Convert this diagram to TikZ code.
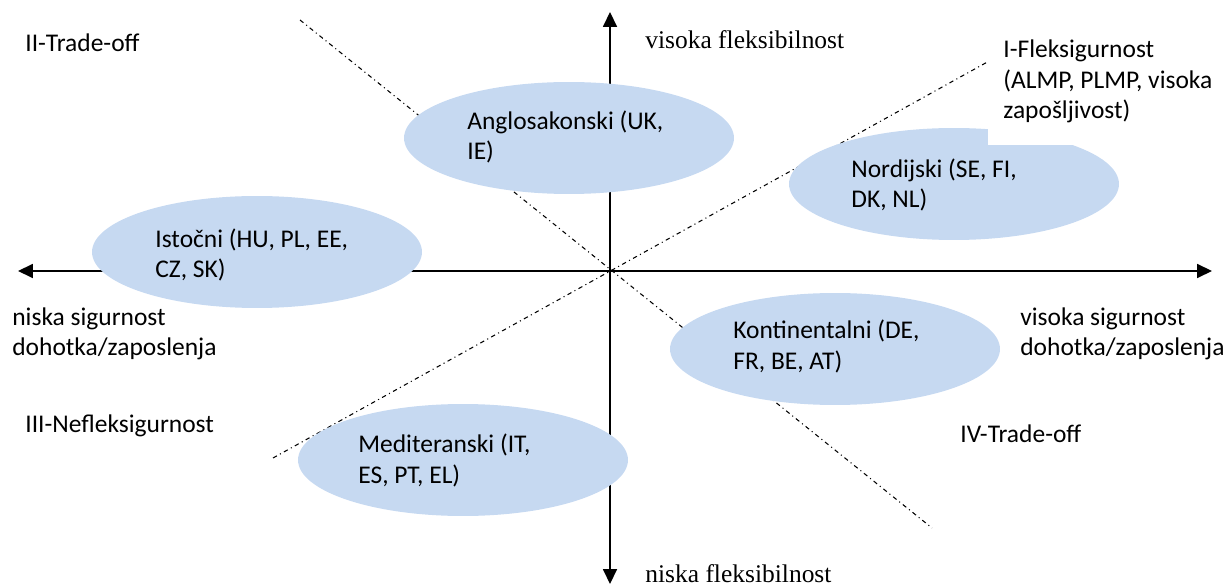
\documentclass[tikz,border=0pt]{standalone}
\usepackage{fontspec}
\setmainfont{Carlito}
\newfontfamily\timesfont{Liberation Serif}
\usetikzlibrary{shapes.geometric, arrows.meta}
\definecolor{clusterblue}{HTML}{C6D9F1}
\tikzset{
    normal/.style={draw, line width=0.8pt},
    ax/.style={style=normal, {Triangle[length=8.5pt, width=8pt]}-{Triangle[length=8.5pt, width=8pt]}},
    diag/.style={draw, line width=0.6pt, dash pattern=on 2.5pt off 2pt on 0.6pt off 2pt}, % quadrant borders
    cl/.style={ellipse, fill=clusterblue, inner sep=0, minimum width=6.6cm, minimum height=2.24cm}, % country clusters
    txt/.style={anchor=base west, align=left, inner sep=0, font=\fontsize{14.5}{17.6}\selectfont}, % base = last line
    stxt/.style={style=txt, font=\fontsize{14.5}{17.6}\selectfont\timesfont}
}

\begin{document}
\begin{tikzpicture}[x=0.02cm, y=-0.02cm]
    \useasboundingbox (0,0) rectangle (1230,587);

    \coordinate (xl) at (18,271);
    \coordinate (xr) at (1212,271);
    \coordinate (yt) at (610,12);
    \coordinate (yb) at (610,584);
    \coordinate (d1a) at (300,20);
    \coordinate (d1b) at (932,528);
    \coordinate (d2a) at (273,458);
    \coordinate (d2b) at (1000,55);

    \draw[diag] (d1a) to (d1b);
    \draw[diag] (d2a) to (d2b);
    \draw[ax] (xl) to (xr);
    \draw[ax] (yb) to (yt);

    \node[cl] (anglo) at (569,138) {};
    \node[cl] (nord) at (954,184) {};
    \node[cl] (ist) at (257,252) {};
    \node[cl] (kont) at (835,349) {};
    \node[cl] (med) at (463,460) {};

    % text box of quadrant I lies over the nordic cluster
    \node[fill=white, anchor=north west, inner sep=0, minimum width=4.84cm, minimum height=2.34cm] (qonebox) at (988,28) {};

    \node[txt] (anglot) at (467,160) {Anglosakonski (UK,\\IE)};
    \node[txt] (nordt) at (851,208) {Nordijski (SE, FI,\\DK, NL)};
    \node[txt] (istt) at (155,278) {Isto\v{c}ni (HU, PL, EE,\\CZ, SK)};
    \node[txt] (kontt) at (733,369) {Kontinentalni (DE,\\FR, BE, AT)};
    \node[txt] (medt) at (358,483) {Mediteranski (IT,\\ES, PT, EL)};

    \node[txt] (qone) at (1003,119) {I-Fleksigurnost\\(ALMP, PLMP, visoka\\zapo\v{s}ljivost)};
    \node[txt] (qtwo) at (25,52) {II-Trade-off};
    \node[txt] (qthree) at (25,432) {III-Nefleksigurnost};
    \node[txt] (qfour) at (960,442) {IV-Trade-off};

    \node[stxt] (flexhi) at (645,49) {visoka fleksibilnost};
    \node[stxt] (flexlo) at (645,582) {niska fleksibilnost};
    \node[txt] (seclo) at (12,356) {niska sigurnost\\dohotka/zaposlenja};
    \node[txt] (sechi) at (1020,356) {visoka sigurnost\\dohotka/zaposlenja};
\end{tikzpicture}
\end{document}
